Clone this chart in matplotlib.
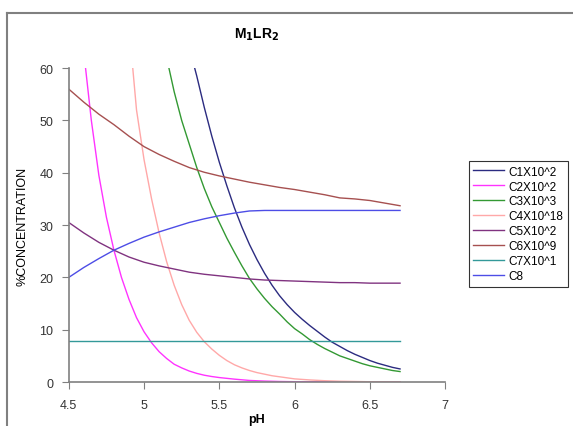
import matplotlib
matplotlib.use('Agg')
import matplotlib.pyplot as plt
from matplotlib.lines import Line2D

plt.rcParams['font.family'] = ['Liberation Sans', 'DejaVu Sans']

# pH grids and series values
ph_c1 = [5.30, 5.35, 5.40, 5.45, 5.50, 5.55, 5.60, 5.65, 5.70, 5.75, 5.80, 5.85, 5.90, 5.95,
         6.00, 6.05, 6.10, 6.15, 6.20, 6.25, 6.30, 6.35, 6.40, 6.45, 6.50, 6.55, 6.60, 6.65, 6.70]
c1 = [64, 58.5, 52.5, 47, 42, 37.5, 33.3, 29.6, 26.3, 23.4, 20.8, 18.5, 16.5, 14.8,
      13.3, 12.0, 10.8, 9.7, 8.6, 7.6, 6.8, 6.0, 5.3, 4.7, 4.1, 3.6, 3.2, 2.8, 2.5]

ph_c2 = [4.55, 4.60, 4.65, 4.70, 4.75, 4.80, 4.85, 4.90, 4.95, 5.00, 5.05, 5.10, 5.15, 5.20,
         5.25, 5.30, 5.35, 5.40, 5.45, 5.50, 5.60, 5.70, 5.80, 5.90, 6.00, 6.20, 6.40, 6.70]
c2 = [85, 63, 50, 39.5, 31.5, 25.2, 20, 15.8, 12.3, 9.6, 7.5, 5.8, 4.5, 3.4,
      2.7, 2.1, 1.65, 1.3, 1.05, 0.85, 0.55, 0.3, 0.18, 0.1, 0.06, 0.03, 0.01, 0.0]

ph_c3 = [5.15, 5.20, 5.25, 5.30, 5.35, 5.40, 5.45, 5.50, 5.55, 5.60, 5.65, 5.70, 5.75, 5.80,
         5.85, 5.90, 5.95, 6.00, 6.05, 6.10, 6.15, 6.20, 6.25, 6.30, 6.35, 6.40, 6.45, 6.50,
         6.55, 6.60, 6.65, 6.70]
c3 = [62, 55.5, 50, 45.5, 41, 37, 33.5, 30.5, 27.5, 24.8, 22.2, 19.8, 17.8, 16,
      14.4, 13, 11.5, 10.2, 9.2, 8.1, 7.2, 6.4, 5.7, 5.0, 4.5, 4.0, 3.5, 3.1,
      2.8, 2.5, 2.2, 2.0]

ph_c4 = [4.90, 4.95, 5.00, 5.05, 5.10, 5.15, 5.20, 5.25, 5.30, 5.35, 5.40, 5.45, 5.50, 5.55,
         5.60, 5.65, 5.70, 5.75, 5.80, 5.85, 5.90, 5.95, 6.00, 6.05, 6.10, 6.20, 6.30, 6.40,
         6.50, 6.60, 6.70]
c4 = [68, 52, 42.5, 35, 28.5, 23, 18.5, 14.8, 11.8, 9.5, 7.7, 6.3, 5.1, 4.1,
      3.3, 2.7, 2.2, 1.8, 1.5, 1.2, 1.0, 0.8, 0.6, 0.5, 0.4, 0.25, 0.15, 0.1,
      0.05, 0.03, 0.02]

ph = [4.5, 4.6, 4.7, 4.8, 4.9, 5.0, 5.1, 5.2, 5.3, 5.4, 5.5, 5.6, 5.7, 5.8, 5.9,
      6.0, 6.1, 6.2, 6.3, 6.4, 6.5, 6.6, 6.7]
c5 = [30.5, 28.5, 26.7, 25.2, 23.9, 22.9, 22.2, 21.6, 21.0, 20.6, 20.3, 20.0, 19.7, 19.5, 19.4,
      19.3, 19.2, 19.1, 19.0, 19.0, 18.9, 18.9, 18.9]
c6 = [56, 53.5, 51.2, 49.2, 47, 45, 43.5, 42.2, 41, 40.1, 39.4, 38.8, 38.2, 37.7, 37.2,
      36.8, 36.3, 35.8, 35.2, 35.0, 34.7, 34.2, 33.7]
c7 = [7.8] * 23
c8 = [20.0, 21.9, 23.6, 25.2, 26.5, 27.7, 28.7, 29.6, 30.5, 31.2, 31.8, 32.3, 32.7, 32.8, 32.8,
      32.8, 32.8, 32.8, 32.8, 32.8, 32.8, 32.8, 32.8]

labels = ['C1X10^2', 'C2X10^2', 'C3X10^3', 'C4X10^18', 'C5X10^2', 'C6X10^9', 'C7X10^1', 'C8']
colors = ['#2b2b80', '#ff33ff', '#339933', '#ffa8a8', '#803380', '#a65050', '#339999', '#4d4de6']

fig = plt.figure(figsize=(5.73, 4.27), dpi=100)
ax = fig.add_axes([0.120, 0.103, 0.657, 0.735])

series = [(ph_c1, c1), (ph_c2, c2), (ph_c3, c3), (ph_c4, c4),
          (ph, c5), (ph, c6), (ph, c7), (ph, c8)]
for (x, y), lab, col in zip(series, labels, colors):
    ax.plot(x, y, color=col, lw=1.0, label=lab)

ax.set_xlim(4.5, 7)
ax.set_ylim(0, 60)
ax.set_xticks([4.5, 5, 5.5, 6, 6.5, 7])
ax.set_xticklabels(['4.5', '5', '5.5', '6', '6.5', '7'])
ax.set_yticks(range(0, 61, 10))
ax.spines['top'].set_visible(False)
ax.spines['right'].set_visible(False)
for s in ['left', 'bottom']:
    ax.spines[s].set_color('#808080')
    ax.spines[s].set_linewidth(1.2)
ax.tick_params(direction='out', length=5, color='#808080', labelsize=9, labelcolor='#333333')
ax.tick_params(axis='x', pad=7)
ax.tick_params(axis='y', pad=6)

ax.set_title(r'M$_\mathbf{1}$LR$_\mathbf{2}$', fontsize=10, fontweight='bold', pad=22)
ax.set_xlabel('pH', fontsize=9, fontweight='bold', labelpad=2)
ax.set_ylabel('%CONCENTRATION', fontsize=9, labelpad=8)

handles = [Line2D([], [], color=c, lw=1.0) for c in colors]
leg = fig.legend(handles, labels, loc='upper left', bbox_to_anchor=(0.818, 0.621),
                 borderaxespad=0, fontsize=8.5, frameon=True, fancybox=False, handlelength=2.6,
                 labelspacing=0.25, borderpad=0.4, handletextpad=0.4)
leg.get_frame().set_edgecolor('#000000')
leg.get_frame().set_linewidth(0.8)

# outer chart border (top and left visible)
fig.add_artist(Line2D([0.013, 0.998], [0.967, 0.967], color='#808080', lw=1.5, transform=fig.transFigure))
fig.add_artist(Line2D([0.013, 0.013], [0.0, 0.967], color='#808080', lw=1.5, transform=fig.transFigure))

fig.savefig('out.png', dpi=100)
